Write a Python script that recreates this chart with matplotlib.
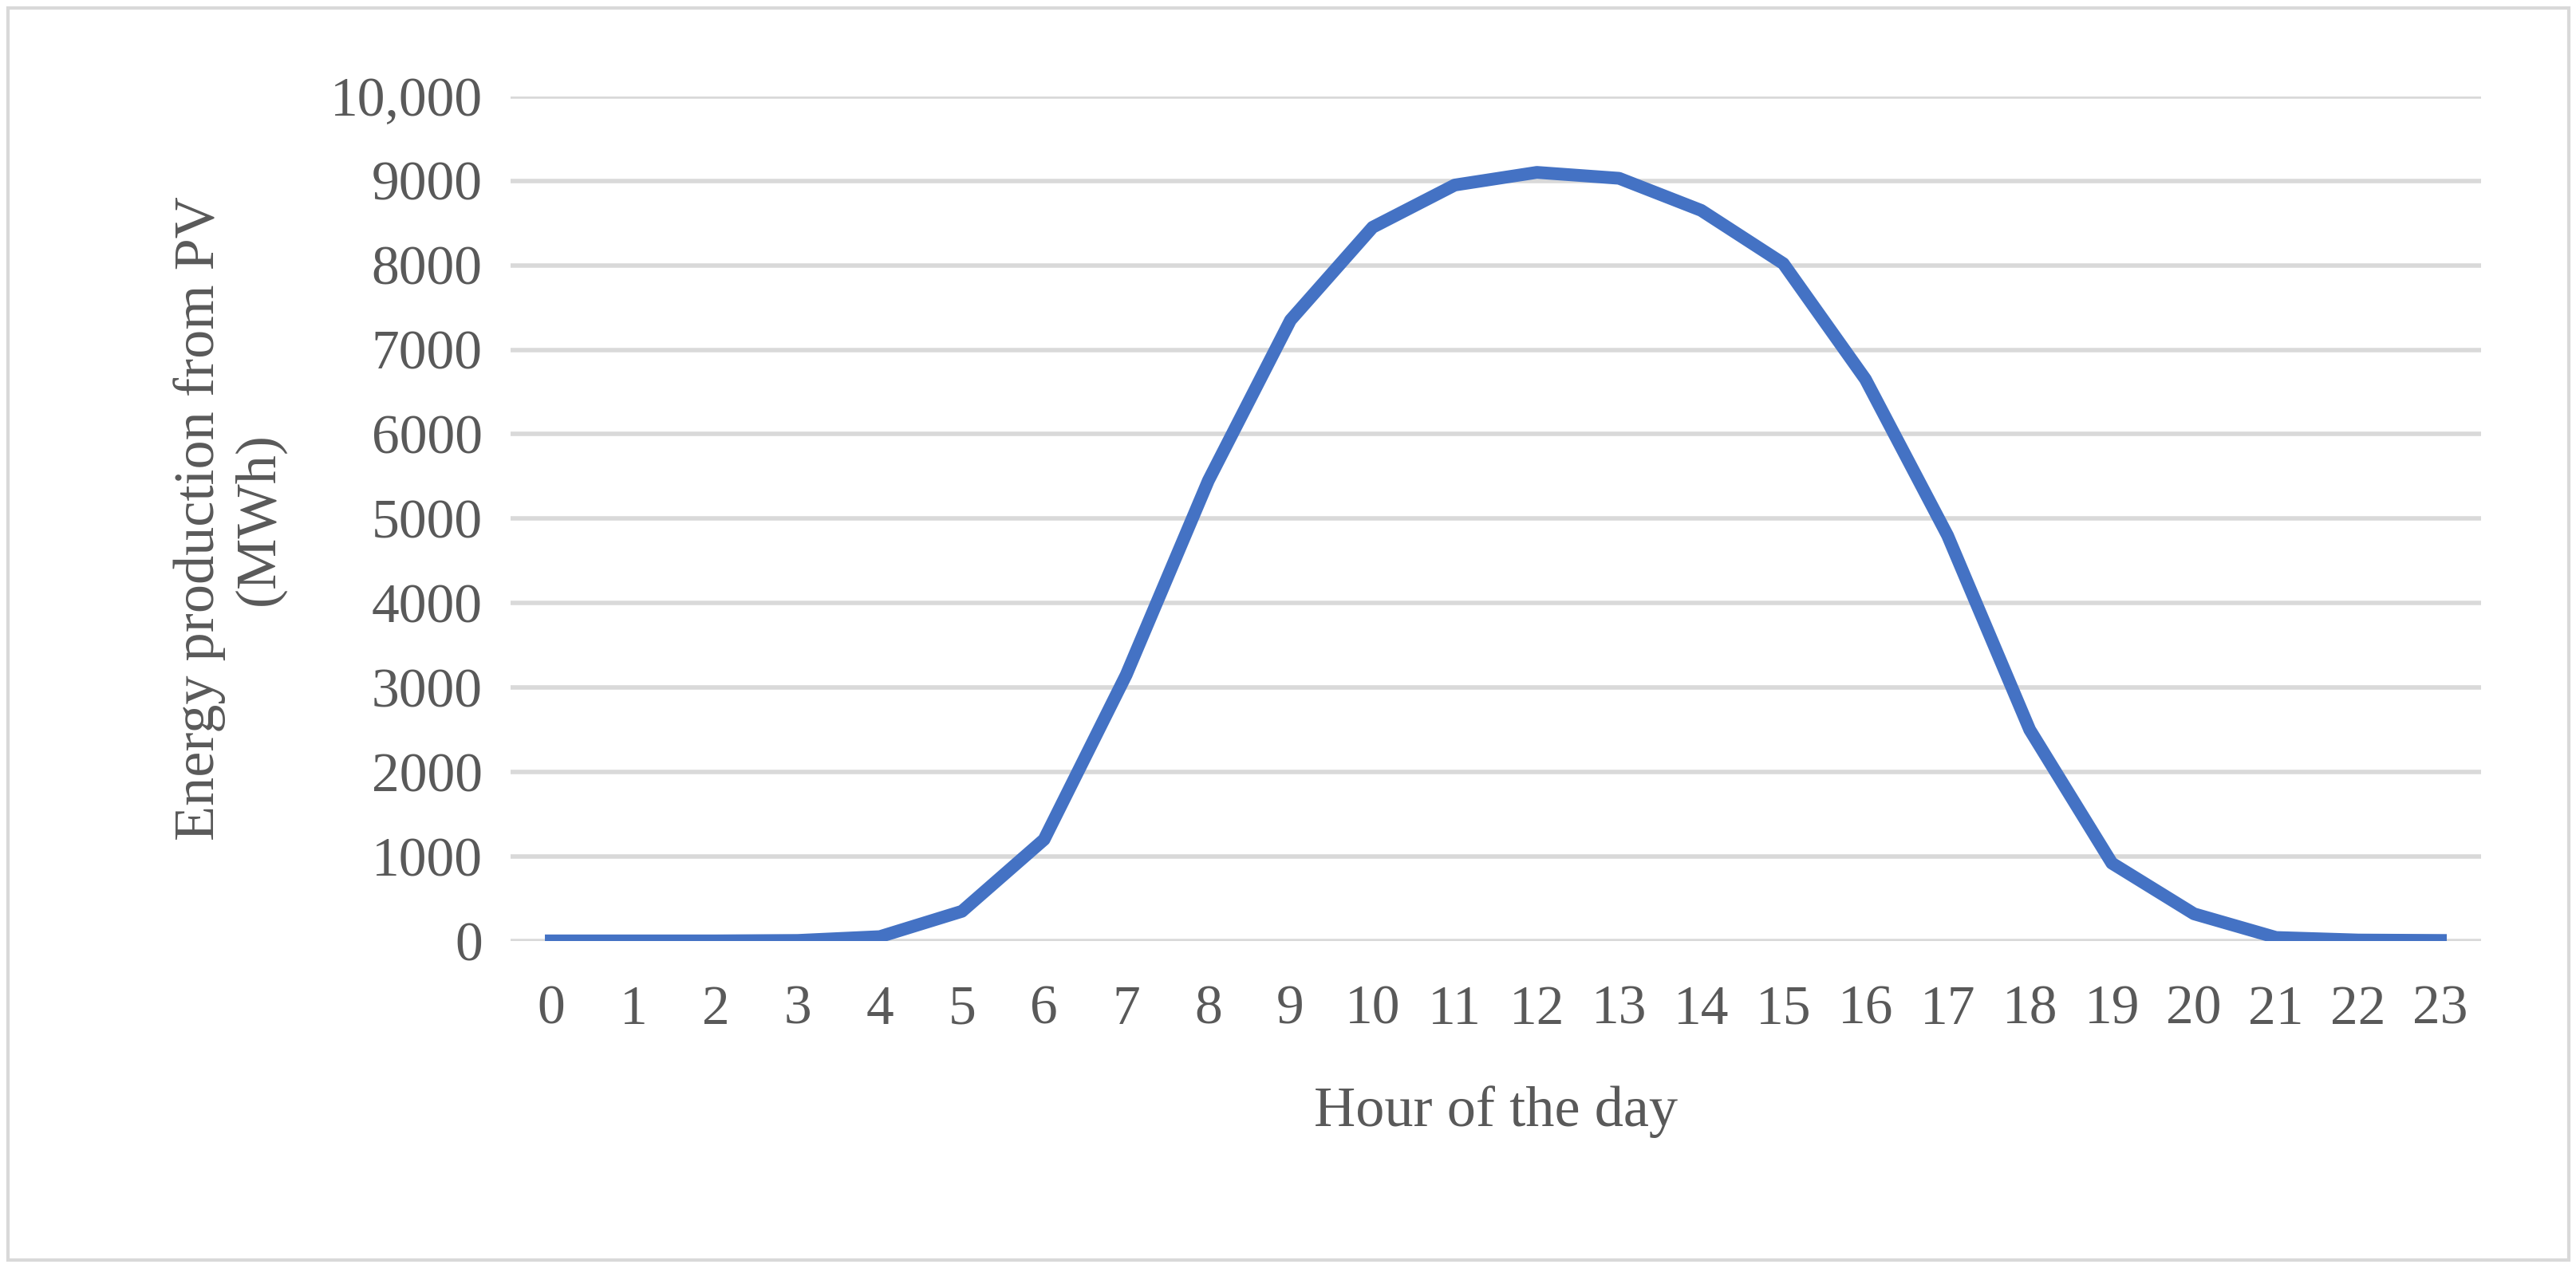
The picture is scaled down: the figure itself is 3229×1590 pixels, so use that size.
import matplotlib.pyplot as plt
from matplotlib.patches import Rectangle

hours = list(range(24))
energy = [0, 0, 0, 5, 50, 350, 1200, 3150, 5450, 7350, 8450, 8950,
          9100, 9030, 8650, 8020, 6650, 4800, 2500, 920, 320, 40, 10, 5]

plt.rcParams['font.family'] = ['Liberation Serif', 'DejaVu Serif']

fig = plt.figure(figsize=(32.3, 15.9), dpi=100)
ax = fig.add_axes([0.198, 0.258, 0.765, 0.666])

ax.plot(hours, energy, color='#4472C4', linewidth=11.5, solid_joinstyle='round', zorder=3)

ax.set_xlim(-0.5, 23.5)
ax.set_ylim(0, 10000)
ax.set_yticks(range(0, 10001, 1000))
ax.set_yticklabels([f'{v:,}' if v >= 10000 else str(v) for v in range(0, 10001, 1000)])
ax.set_xticks(hours)
ax.grid(axis='y', color='#D9D9D9', linewidth=4)
ax.set_axisbelow(True)
for s in ax.spines.values():
    s.set_visible(False)
ax.tick_params(length=0, labelsize=50, labelcolor='#595959')
ax.tick_params(axis='x', pad=40)
ax.tick_params(axis='y', pad=25)

ax.set_xlabel('Hour of the day', fontsize=52, color='#595959', labelpad=45)
ax.set_ylabel('Energy production from PV\n(MWh)', fontsize=52, color='#595959', labelpad=40)

fig.patches.append(Rectangle((0.003, 0.006), 0.994, 0.988, transform=fig.transFigure,
                             fill=False, edgecolor='#D9D9D9', linewidth=3))

fig.savefig('out.png', dpi=100)
